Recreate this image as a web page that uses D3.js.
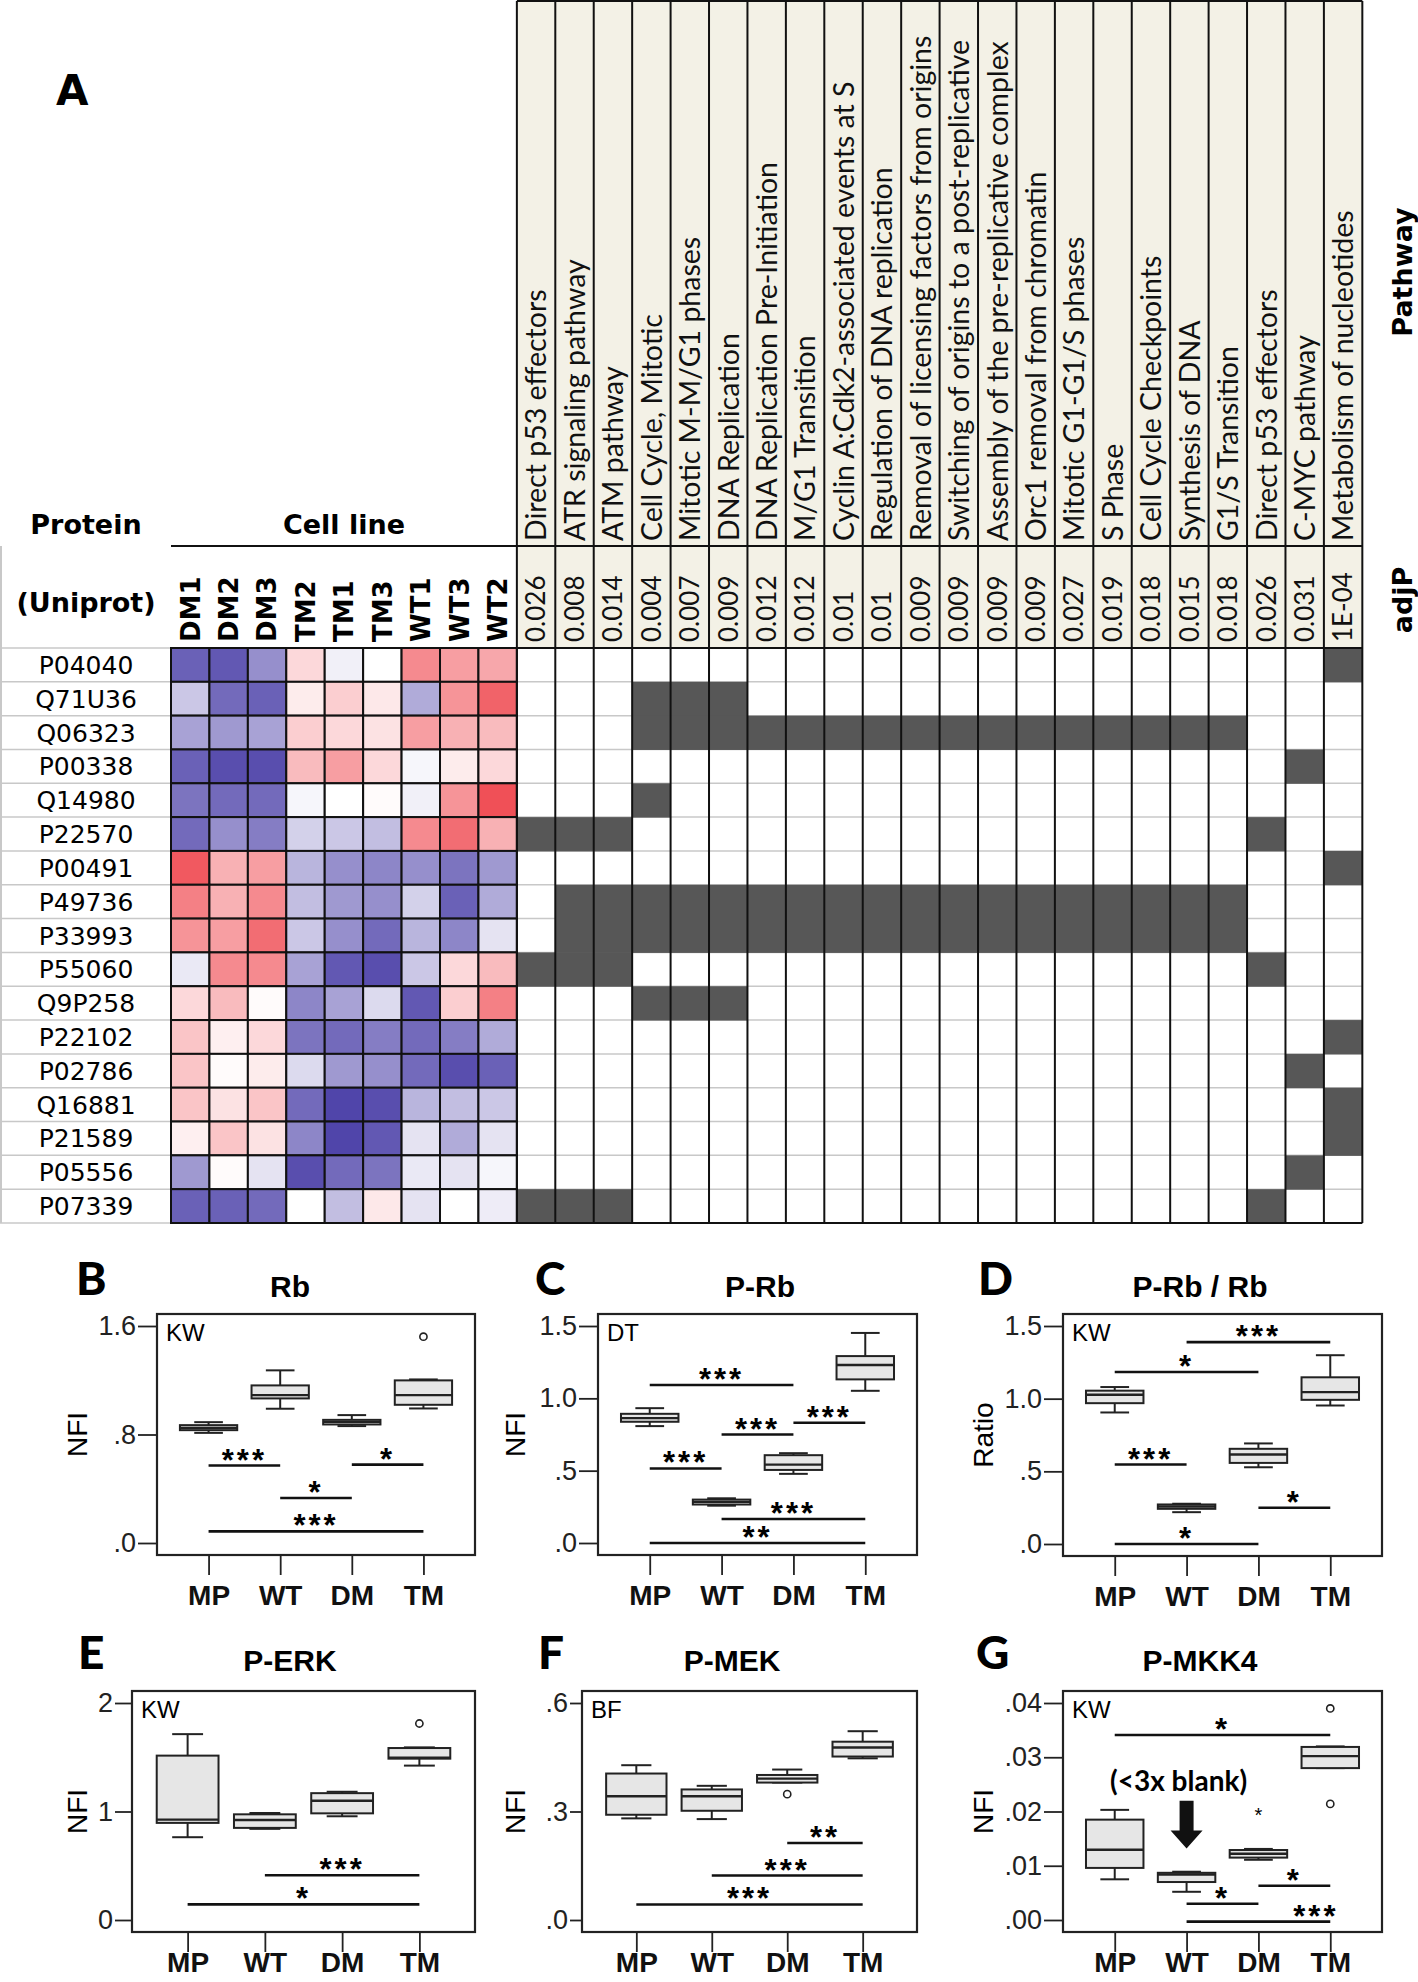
<!DOCTYPE html>
<html><head><meta charset="utf-8">
<script src="https://cdn.jsdelivr.net/npm/d3@7"></script>
<style>body{margin:0;background:#fff}svg{display:block}</style>
</head><body><svg id="c" width="1418" height="1982"></svg>
<script>
// ---------------- DATA ----------------
const proteins = ["P04040","Q71U36","Q06323","P00338","Q14980","P22570","P00491","P49736","P33993","P55060","Q9P258","P22102","P02786","Q16881","P21589","P05556","P07339"];
const cellLines = ["DM1","DM2","DM3","TM2","TM1","TM3","WT1","WT3","WT2"];
const expression = [
  [-0.85,-0.9,-0.6,0.2,-0.08,0.0,0.6,0.5,0.45],
  [-0.3,-0.8,-0.85,0.1,0.25,0.12,-0.45,0.55,0.8],
  [-0.5,-0.55,-0.5,0.25,0.2,0.15,0.5,0.4,0.35],
  [-0.85,-0.95,-0.95,0.35,0.5,0.2,-0.05,0.1,0.2],
  [-0.75,-0.8,-0.8,-0.05,0.0,0.02,-0.08,0.55,0.9],
  [-0.8,-0.6,-0.7,-0.25,-0.3,-0.35,0.6,0.75,0.4],
  [0.85,0.4,0.5,-0.4,-0.6,-0.65,-0.6,-0.75,-0.55],
  [0.65,0.4,0.6,-0.35,-0.55,-0.6,-0.25,-0.85,-0.45],
  [0.55,0.5,0.75,-0.3,-0.6,-0.8,-0.4,-0.65,-0.15],
  [-0.12,0.6,0.6,-0.5,-0.9,-0.95,-0.3,0.2,0.35],
  [0.2,0.35,0.02,-0.65,-0.5,-0.2,-0.9,0.25,0.65],
  [0.3,0.08,0.2,-0.75,-0.8,-0.7,-0.8,-0.7,-0.45],
  [0.3,0.02,0.1,-0.2,-0.55,-0.6,-0.8,-0.95,-0.85],
  [0.3,0.15,0.3,-0.8,-1.0,-0.95,-0.4,-0.35,-0.3],
  [0.08,0.3,0.15,-0.65,-1.05,-0.9,-0.15,-0.45,-0.15],
  [-0.55,0.02,-0.15,-0.95,-0.8,-0.75,-0.12,-0.15,-0.05],
  [-0.85,-0.85,-0.8,0.0,-0.35,0.12,-0.15,0.0,-0.1]
];
const pathways = ["Direct p53 effectors","ATR signaling pathway","ATM pathway","Cell Cycle, Mitotic","Mitotic M-M/G1 phases","DNA Replication","DNA Replication Pre-Initiation","M/G1 Transition","Cyclin A:Cdk2-associated events at S","Regulation of DNA replication","Removal of licensing factors from origins","Switching of origins to a post-replicative","Assembly of the pre-replicative complex","Orc1 removal from chromatin","Mitotic G1-G1/S phases","S Phase","Cell Cycle Checkpoints","Synthesis of DNA","G1/S Transition","Direct p53 effectors","C-MYC pathway","Metabolism of nucleotides"];
const adjP = ["0.026","0.008","0.014","0.004","0.007","0.009","0.012","0.012","0.01","0.01","0.009","0.009","0.009","0.009","0.027","0.019","0.018","0.015","0.018","0.026","0.031","1E-04"];
const membership = [
  [21],
  [3,4,5],
  [3,4,5,6,7,8,9,10,11,12,13,14,15,16,17,18],
  [20],
  [3],
  [0,1,2,19],
  [21],
  [1,2,3,4,5,6,7,8,9,10,11,12,13,14,15,16,17,18],
  [1,2,3,4,5,6,7,8,9,10,11,12,13,14,15,16,17,18],
  [0,1,2,19],
  [3,4,5],
  [21],
  [20],
  [21],
  [21],
  [20],
  [0,1,2,19]
];

const groups = ["MP","WT","DM","TM"];
// box stats: [lowWhisker, q1, median, q3, highWhisker]
const rbStats = [[0.812,0.832,0.849,0.869,0.891],[0.99,1.066,1.09,1.162,1.273],[0.862,0.874,0.893,0.908,0.943],[0.992,1.019,1.09,1.199,1.206]];
const rbOutliers = [["TM",1.521]];
const rbSig = [["MP","WT",0.571,"***"],["DM","TM",0.578,"*"],["WT","DM",0.332,"*"],["MP","TM",0.086,"***"]];
const rbTicks = [0,0.8,1.6], rbTickLabels = [".0",".8","1.6"];

const prbStats = [[0.808,0.838,0.863,0.893,0.932],[0.258,0.266,0.284,0.300,0.309],[0.478,0.505,0.542,0.607,0.621],[1.052,1.131,1.230,1.292,1.452]];
const prbOutliers = [];
const prbSig = [["MP","DM",1.092,"***"],["WT","DM",0.75,"***"],["DM","TM",0.831,"***"],["MP","WT",0.515,"***"],["WT","TM",0.166,"***"],["MP","TM",0.0,"**"]];
const prbTicks = [0,0.5,1.0,1.5], prbTickLabels = [".0",".5","1.0","1.5"];

const ratioStats = [[0.905,0.969,1.027,1.055,1.080],[0.219,0.242,0.258,0.272,0.277],[0.528,0.558,0.616,0.655,0.692],[0.953,0.992,1.045,1.147,1.299]];
const ratioOutliers = [];
const ratioSig = [["WT","TM",1.389,"***"],["MP","DM",1.184,"*"],["MP","WT",0.547,"***"],["DM","TM",0.249,"*"],["MP","DM",0.0,"*"]];
const ratioTicks = [0,0.5,1.0,1.5], ratioTickLabels = [".0",".5","1.0","1.5"];

const erkStats = [[0.763,0.895,0.925,1.515,1.713],[0.840,0.849,0.922,0.974,0.986],[0.956,0.983,1.099,1.169,1.182],[1.423,1.487,1.496,1.585,1.591]];
const erkOutliers = [["TM",1.811]];
const erkSig = [["WT","TM",0.412,"***"],["MP","TM",0.144,"*"]];
const erkTicks = [0,1,2], erkTickLabels = ["0","1","2"];

const mekStats = [[0.281,0.291,0.342,0.405,0.428],[0.279,0.302,0.342,0.361,0.371],[0.380,0.380,0.391,0.401,0.416],[0.447,0.452,0.477,0.493,0.522]];
const mekOutliers = [["DM",0.348]];
const mekSig = [["DM","TM",0.213,"**"],["WT","TM",0.123,"***"],["MP","TM",0.043,"***"]];
const mekTicks = [0,0.3,0.6], mekTickLabels = [".0",".3",".6"];

const mkkStats = [[0.0075,0.0096,0.01295,0.0185,0.0203],[0.0052,0.0070,0.0084,0.0087,0.0089],[0.0111,0.0115,0.0122,0.0129,0.0131],[0.0280,0.0280,0.0302,0.0319,0.0320]];
const mkkOutliers = [["TM",0.039],["TM",0.0214]];
const mkkExtremes = [["DM",0.0197]];
const mkkSig = [["MP","TM",0.0341,"*"],["DM","TM",0.0063,"*"],["WT","DM",0.0030,"*"],["WT","TM",-0.0003,"***",2.8]];
const mkkTicks = [0,0.01,0.02,0.03,0.04], mkkTickLabels = [".00",".01",".02",".03",".04"];

// ---------------- DRAW ----------------
const svg = d3.select("#c");
svg.append("rect").attr("width",1418).attr("height",1982).attr("fill","#fff");

const ARIAL = "'Liberation Sans', Arial, sans-serif";
const VERD = "'DejaVu Sans', Verdana, sans-serif";
const CAL = "Lato, 'Open Sans', sans-serif";

// ---- Panel A ----
const hmLeft = 171, colW = 38.43, rowTop = 648, rowBottom = 1223, headTop = 1, headLine = 546;
const hmRight = hmLeft + cellLines.length*colW;
const pRight = hmRight + pathways.length*colW;
const xCell = d3.scaleBand().domain(cellLines).range([hmLeft,hmRight]);
const xPath = d3.scaleBand().domain(d3.range(pathways.length)).range([hmRight,pRight]);
const yRow = d3.scaleBand().domain(proteins).range([rowTop,rowBottom]);
const color = d3.scaleLinear().domain([-1,0,1]).range(["#5045aa","#ffffff","#ee3c44"]).clamp(true);

const A = svg.append("g");
A.append("text").attr("x",56).attr("y",105).attr("font-family",VERD).attr("font-weight","bold").attr("font-size",42).text("A");

// header beige
A.append("rect").attr("x",hmRight).attr("y",headTop).attr("width",pRight-hmRight).attr("height",rowTop-headTop).attr("fill","#f3f1e6");

// gray row lines
A.selectAll(".rl").data(d3.range(proteins.length+1)).join("line")
  .attr("x1",0).attr("x2",pRight)
  .attr("y1",i=>rowTop+i*yRow.step()).attr("y2",i=>rowTop+i*yRow.step())
  .attr("stroke","#c8c8c8").attr("stroke-width",1.5);
A.append("line").attr("x1",1).attr("x2",1).attr("y1",headLine).attr("y2",rowBottom).attr("stroke","#c8c8c8").attr("stroke-width",2);

// pathway membership cells
const memCells = [];
membership.forEach((arr,r)=>arr.forEach(c=>memCells.push({r,c})));
A.selectAll(".mc").data(memCells).join("rect")
  .attr("x",d=>xPath(d.c)).attr("y",d=>yRow(proteins[d.r]))
  .attr("width",xPath.bandwidth()).attr("height",yRow.bandwidth()+0.5)
  .attr("fill","#575757");

// heatmap cells
const cells = [];
expression.forEach((row,r)=>row.forEach((v,c)=>cells.push({r,c,v})));
A.selectAll(".hc").data(cells).join("rect")
  .attr("x",d=>xCell(cellLines[d.c])).attr("y",d=>yRow(proteins[d.r]))
  .attr("width",xCell.bandwidth()).attr("height",yRow.bandwidth())
  .attr("fill",d=>color(d.v)).attr("stroke","#111").attr("stroke-width",2);

// pathway vertical lines
A.selectAll(".vl").data(d3.range(pathways.length+1)).join("line")
  .attr("x1",i=>hmRight+i*colW).attr("x2",i=>hmRight+i*colW)
  .attr("y1",headTop).attr("y2",rowBottom).attr("stroke","#111").attr("stroke-width",2);
const hl = [[hmRight,pRight,headTop],[hmLeft,pRight,headLine],[hmRight,pRight,rowTop],[hmLeft,pRight,rowBottom]];
A.selectAll(".hl").data(hl).join("line")
  .attr("x1",d=>d[0]).attr("x2",d=>d[1]).attr("y1",d=>d[2]).attr("y2",d=>d[2])
  .attr("stroke","#111").attr("stroke-width",2);

// pathway names
A.selectAll(".pn").data(pathways).join("text")
  .attr("transform",(d,i)=>`translate(${xPath(i)+colW/2},541) rotate(-90)`)
  .attr("dy","0.36em").attr("font-family",CAL).attr("font-size",28.5).attr("fill","#111").text(d=>d);
A.selectAll(".pv").data(adjP).join("text")
  .attr("transform",(d,i)=>`translate(${xPath(i)+colW/2},642) rotate(-90)`)
  .attr("dy","0.36em").attr("font-family",CAL).attr("font-size",26).attr("fill","#111").text(d=>d);
// cell line labels
A.selectAll(".cl").data(cellLines).join("text")
  .attr("transform",d=>`translate(${xCell(d)+colW/2},642) rotate(-90)`)
  .attr("dy","0.36em").attr("font-family",VERD).attr("font-weight","bold").attr("font-size",26).text(d=>d);
// protein labels
A.selectAll(".pl").data(proteins).join("text")
  .attr("x",86).attr("y",d=>yRow(d)+yRow.bandwidth()/2).attr("dy","0.36em")
  .attr("text-anchor","middle").attr("font-family",VERD).attr("font-size",25).text(d=>d);

A.append("text").attr("x",86).attr("y",534).attr("text-anchor","middle").attr("font-family",VERD).attr("font-weight","bold").attr("font-size",27).text("Protein");
A.append("text").attr("x",(hmLeft+hmRight)/2).attr("y",534).attr("text-anchor","middle").attr("font-family",VERD).attr("font-weight","bold").attr("font-size",27).text("Cell line");
A.append("text").attr("x",86).attr("y",612).attr("text-anchor","middle").attr("font-family",VERD).attr("font-weight","bold").attr("font-size",27).text("(Uniprot)");
A.append("text").attr("transform","translate(1402,272) rotate(-90)").attr("dy","0.36em").attr("text-anchor","middle").attr("font-family",VERD).attr("font-weight","bold").attr("font-size",27).text("Pathway");
A.append("text").attr("transform","translate(1402,600) rotate(-90)").attr("dy","0.36em").attr("text-anchor","middle").attr("font-family",VERD).attr("font-weight","bold").attr("font-size",27).text("adjP");

// ---- Box panels ----
function boxPanel(cfg){
  const [x0,x1,y0,y1] = cfg.frame;
  const g = svg.append("g");
  const x = d3.scalePoint().domain(groups).range([x0,x1]).padding(0.72);
  const y = d3.scaleLinear().domain([0,cfg.ticks[cfg.ticks.length-1]]).range([y1-12,y0+12]);
  const step = x.step(), bw = step*0.8, cw = bw*0.5;

  // letter & title
  g.append("text").attr("x",cfg.letterX).attr("y",cfg.letterY).attr("font-family",CAL).attr("font-weight",900).attr("font-size",46).text(cfg.letter);
  g.append("text").attr("x",cfg.titleX).attr("y",cfg.letterY+2).attr("text-anchor","middle").attr("font-family",ARIAL).attr("font-weight","bold").attr("font-size",30).text(cfg.title);

  // y axis
  const ya = g.append("g").attr("transform",`translate(${x0},0)`)
    .call(d3.axisLeft(y).tickValues(cfg.ticks).tickFormat((d,i)=>cfg.tickLabels[i]).tickSize(cfg.tickLen||19).tickPadding(2).tickSizeOuter(0));
  ya.select(".domain").remove();
  ya.attr("font-family",ARIAL).attr("font-size",27).attr("color","#222");
  ya.selectAll("line").attr("stroke-width",1.8);
  // x axis
  const xa = g.append("g").attr("transform",`translate(0,${y1})`)
    .call(d3.axisBottom(x).tickSize(20).tickPadding(cfg.xPad!==undefined?cfg.xPad:10).tickSizeOuter(0));
  xa.select(".domain").remove();
  xa.attr("font-family",ARIAL).attr("font-size",28).attr("font-weight","bold").attr("color","#111");
  xa.selectAll("line").attr("stroke-width",1.8).attr("stroke","#222");

  // y label
  g.append("text").attr("transform",`translate(${cfg.yLabelX},${(y0+y1)/2}) rotate(-90)`).attr("dy","0.36em")
    .attr("text-anchor","middle").attr("font-family",ARIAL).attr("font-size",28).text(cfg.yLabel);

  // frame
  g.append("rect").attr("x",x0).attr("y",y0).attr("width",x1-x0).attr("height",y1-y0).attr("fill","none").attr("stroke","#222").attr("stroke-width",2.2);
  g.append("text").attr("x",x0+9).attr("y",y0+27).attr("font-family",ARIAL).attr("font-size",24).text(cfg.test);

  // boxes
  const bd = cfg.stats.map((s,i)=>({g:groups[i],s}));
  const bg = g.selectAll(".bx").data(bd).join("g");
  bg.append("line").attr("x1",d=>x(d.g)).attr("x2",d=>x(d.g)).attr("y1",d=>y(d.s[0])).attr("y2",d=>y(d.s[1])).attr("stroke","#222").attr("stroke-width",2);
  bg.append("line").attr("x1",d=>x(d.g)).attr("x2",d=>x(d.g)).attr("y1",d=>y(d.s[3])).attr("y2",d=>y(d.s[4])).attr("stroke","#222").attr("stroke-width",2);
  bg.append("line").attr("x1",d=>x(d.g)-cw/2).attr("x2",d=>x(d.g)+cw/2).attr("y1",d=>y(d.s[0])).attr("y2",d=>y(d.s[0])).attr("stroke","#222").attr("stroke-width",2);
  bg.append("line").attr("x1",d=>x(d.g)-cw/2).attr("x2",d=>x(d.g)+cw/2).attr("y1",d=>y(d.s[4])).attr("y2",d=>y(d.s[4])).attr("stroke","#222").attr("stroke-width",2);
  bg.append("rect").attr("x",d=>x(d.g)-bw/2).attr("width",bw)
    .attr("y",d=>y(d.s[3])).attr("height",d=>Math.max(1,y(d.s[1])-y(d.s[3])))
    .attr("fill","#e6e6e6").attr("stroke","#222").attr("stroke-width",2);
  bg.append("line").attr("x1",d=>x(d.g)-bw/2).attr("x2",d=>x(d.g)+bw/2).attr("y1",d=>y(d.s[2])).attr("y2",d=>y(d.s[2])).attr("stroke","#222").attr("stroke-width",2.4);

  // outliers
  g.selectAll(".ol").data(cfg.outliers||[]).join("circle")
    .attr("cx",d=>x(d[0])).attr("cy",d=>y(d[1])).attr("r",3.6)
    .attr("fill","#fff").attr("stroke","#222").attr("stroke-width",1.6);
  g.selectAll(".ex").data(cfg.extremes||[]).join("text")
    .attr("x",d=>x(d[0])).attr("y",d=>y(d[1])+9).attr("text-anchor","middle")
    .attr("font-family",ARIAL).attr("font-size",20).text("*");

  // significance
  const sg = g.selectAll(".sg").data(cfg.sig).join("g");
  sg.append("line").attr("x1",d=>x(d[0])).attr("x2",d=>x(d[1])).attr("y1",d=>y(d[2])).attr("y2",d=>y(d[2]))
    .attr("stroke","#111").attr("stroke-width",2.6);
  sg.append("text")
    .attr("x",d=> d[4]!==undefined ? x(groups[0])+d[4]*step : (x(d[0])+x(d[1]))/2)
    .attr("y",d=>y(d[2])+5).attr("text-anchor","middle")
    .attr("font-family",ARIAL).attr("font-weight","bold").attr("font-size",31).attr("letter-spacing",3)
    .text(d=>d[3]);
  return {g,x,y};
}

boxPanel({frame:[157,475,1314,1555],ticks:rbTicks,tickLabels:rbTickLabels,stats:rbStats,outliers:rbOutliers,sig:rbSig,
  title:"Rb",titleX:290,letter:"B",letterX:76,letterY:1295,yLabel:"NFI",yLabelX:77,test:"KW"});
boxPanel({frame:[598,917,1314,1555],ticks:prbTicks,tickLabels:prbTickLabels,stats:prbStats,outliers:prbOutliers,sig:prbSig,
  title:"P-Rb",titleX:760,letter:"C",letterX:535,letterY:1295,yLabel:"NFI",yLabelX:515,test:"DT"});
boxPanel({frame:[1063,1382,1314,1556],ticks:ratioTicks,tickLabels:ratioTickLabels,stats:ratioStats,outliers:ratioOutliers,sig:ratioSig,
  title:"P-Rb / Rb",titleX:1200,letter:"D",letterX:978,letterY:1295,yLabel:"Ratio",yLabelX:983,test:"KW"});
boxPanel({frame:[132,475,1691,1932],ticks:erkTicks,tickLabels:erkTickLabels,stats:erkStats,outliers:erkOutliers,sig:erkSig,
  title:"P-ERK",titleX:290,letter:"E",letterX:78,letterY:1669,yLabel:"NFI",yLabelX:77,test:"KW",tickLen:17,xPad:0});
boxPanel({frame:[582,917,1691,1932],ticks:mekTicks,tickLabels:mekTickLabels,stats:mekStats,outliers:mekOutliers,sig:mekSig,
  title:"P-MEK",titleX:732,letter:"F",letterX:538,letterY:1669,yLabel:"NFI",yLabelX:515,test:"BF",tickLen:12,xPad:0});
const G = boxPanel({frame:[1063,1382,1691,1932],ticks:mkkTicks,tickLabels:mkkTickLabels,stats:mkkStats,outliers:mkkOutliers,extremes:mkkExtremes,sig:mkkSig,
  title:"P-MKK4",titleX:1200,letter:"G",letterX:976,letterY:1669,yLabel:"NFI",yLabelX:983,test:"KW",xPad:0});

// annotation in G
const ax = G.x("WT"), yTop = G.y(0.0220), yHead = G.y(0.0165), yTip = G.y(0.0132);
G.g.append("text").attr("x",ax-8).attr("y",G.y(0.0238)).attr("text-anchor","middle")
  .attr("font-family",CAL).attr("font-weight","bold").attr("font-size",28).text("(<3x blank)");
G.g.append("path").attr("d",`M${ax-7},${yTop}L${ax+7},${yTop}L${ax+7},${yHead}L${ax+16},${yHead}L${ax},${yTip}L${ax-16},${yHead}L${ax-7},${yHead}Z`).attr("fill","#111");
</script></body></html>
